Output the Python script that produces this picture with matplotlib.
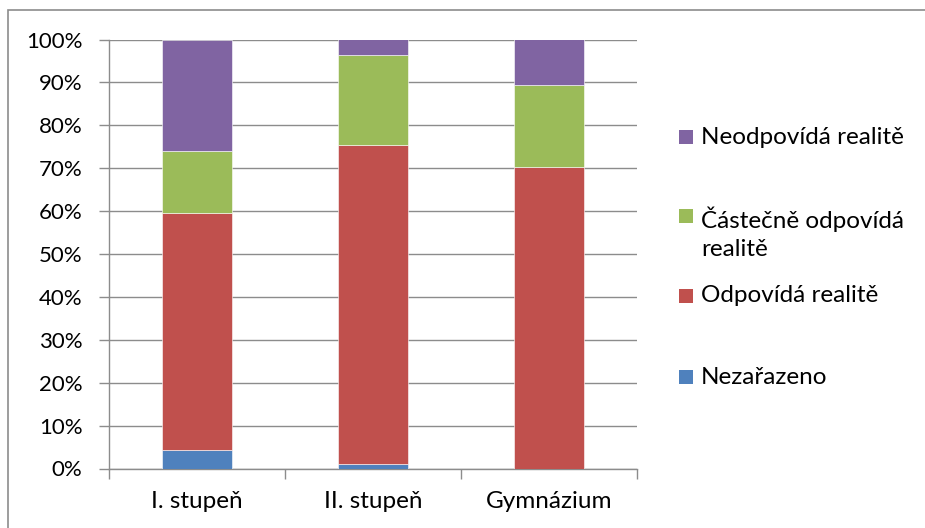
import matplotlib.pyplot as plt
from matplotlib.patches import Rectangle
from matplotlib.ticker import PercentFormatter
import numpy as np

plt.rcParams['font.family'] = ['Lato', 'DejaVu Sans']

categories = ['I. stupeň', 'II. stupeň', 'Gymnázium']
series_names = ['Nezařazeno', 'Odpovídá realitě', 'Částečně odpovídá realitě', 'Neodpovídá realitě']
nezarazeno = [4.4, 1.1, 0.0]
odpovida = [55.2, 74.3, 70.2]
castecne = [14.5, 21.1, 19.1]
neodpovida = [25.9, 3.5, 10.7]
colors = ['#4F81BD', '#C0504D', '#9BBB59', '#8064A2']

W, H = 925, 528
fig = plt.figure(figsize=(W / 100, H / 100), dpi=100)


def fx(px):
    return px / W


def fy(py):
    return 1 - py / H


ax = fig.add_axes([fx(109), fy(468.5), fx(637) - fx(109), fy(39.5) - fy(468.5)])

index = np.arange(len(categories))
bottom = np.zeros(len(categories))
for vals, col in zip([nezarazeno, odpovida, castecne, neodpovida], colors):
    ax.bar(index, vals, 0.4, bottom=bottom, color=col, edgecolor='white', linewidth=0.4, zorder=3)
    bottom += np.array(vals)

ax.set_xlim(-0.5, len(categories) - 0.5)
ax.set_ylim(0, 100)
ax.set_yticks(np.arange(0, 101, 10))
ax.yaxis.set_major_formatter(PercentFormatter(decimals=0))
ax.yaxis.grid(True, color='#8c8c8c', linewidth=1.0, zorder=0)
ax.set_xticks(index)
ax.set_xticklabels(categories)
ax.set_xticks(np.arange(-0.5, len(categories)), minor=True)

for s in ['top', 'right']:
    ax.spines[s].set_visible(False)
for s in ['left', 'bottom']:
    ax.spines[s].set_color('#8c8c8c')
    ax.spines[s].set_linewidth(1.0)

ax.tick_params(axis='y', length=7, color='#8c8c8c', width=1, labelsize=16, pad=12)
ax.tick_params(axis='x', which='major', length=0, labelsize=17.5, pad=16)
ax.tick_params(axis='x', which='minor', length=7, color='#8c8c8c', width=1)

# outer chart frame
fig.add_artist(Rectangle((fx(8), fy(H + 20)), fx(W + 20), fy(10) - fy(H + 20),
                         transform=fig.transFigure, fill=False, edgecolor='#8c8c8c', linewidth=1.2))

# legend, top to bottom in reverse stacking order
legend_rows = [
    (series_names[3], colors[3], 137),
    ('Částečně odpovídá\nrealitě', colors[2], 216),
    (series_names[1], colors[1], 296),
    (series_names[0], colors[0], 377),
]
for label, col, yc in legend_rows:
    fig.add_artist(Rectangle((fx(679), fy(yc + 7)), fx(14), fy(yc - 7) - fy(yc + 7),
                             transform=fig.transFigure, facecolor=col, edgecolor='none'))
    if '\n' in label:
        # wrapped entry: centre the two lines so the first one sits on the marker
        fig.text(fx(701), fy(yc + 17), label, fontsize=17.5, va='center', ha='left',
                 linespacing=1.4)
    else:
        fig.text(fx(701), fy(yc), label, fontsize=17.5, va='center', ha='left')

fig.savefig('out.png', dpi=100)
